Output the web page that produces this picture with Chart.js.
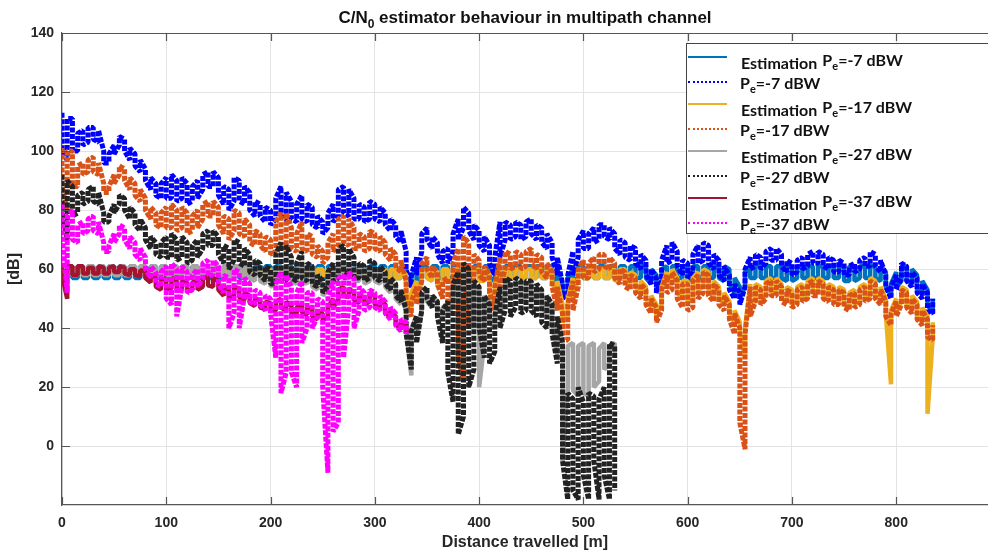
<!DOCTYPE html>
<html>
<head>
<meta charset="utf-8">
<script src="https://cdn.jsdelivr.net/npm/chart.js@4.4.1/dist/chart.umd.min.js"></script>
<style>
  html, body { margin: 0; padding: 0; background: #fff; }
  #wrap { position: relative; width: 988px; height: 554px; overflow: hidden; }
  #title { position: absolute; left: 62px; width: 926px; top: 9px; text-align: center;
           font: bold 17px "Liberation Sans", Arial, sans-serif; line-height: 17px; color: #111; }
  #title sub { font-size: 12px; line-height: 0; vertical-align: -5px; }
  #legendBox { position: absolute; left: 686px; top: 43px; width: 320px; height: 191px;
               background: #fff; border: 1px solid #444; box-sizing: border-box; }
  .lgLine { position: absolute; left: 688px; width: 39px; height: 0; }
  .lgText { position: absolute; white-space: nowrap; font: bold 16px Lato, "Open Sans", sans-serif;
            line-height: 16px; color: #111; }
  .lgText sub { font-size: 11px; line-height: 0; vertical-align: -4px; }
  .raise { position: relative; top: -3px; margin-left: 5px; }
</style>
</head>
<body>
<div id="wrap">
  <canvas id="chart" width="988" height="554"></canvas>
  <div id="title">C/N<sub>0</sub> estimator behaviour in multipath channel</div>
  <div id="legendBox"></div>
</div>
<script>
// distance travelled [m], one sample every 5 m
const distance = [
  0,5,10,15,20,25,30,35,40,45, 50,55,60,65,70,75,80,85,90,95,
  100,105,110,115,120,125,130,135,140,145, 150,155,160,165,170,175,180,185,190,195,
  200,205,210,215,220,225,230,235,240,245, 250,255,260,265,270,275,280,285,290,295,
  300,305,310,315,320,325,330,335,340,345, 350,355,360,365,370,375,380,385,390,395,
  400,405,410,415,420,425,430,435,440,445, 450,455,460,465,470,475,480,485,490,495,
  500,505,510,515,520,525,530,535,540,545, 550,555,560,565,570,575,580,585,590,595,
  600,605,610,615,620,625,630,635,640,645, 650,655,660,665,670,675,680,685,690,695,
  700,705,710,715,720,725,730,735,740,745, 750,755,760,765,770,775,780,785,790,795,
  800,805,810,815,820,825,830,835
];

const xTicks = [0, 100, 200, 300, 400, 500, 600, 700, 800];
const yTicks = [0, 20, 40, 60, 80, 100, 120, 140];

// each series: upper and lower edge of the noisy trace at every distance sample [dB]
const est7Hi = [
  61,61,61,61,61,61,61,61,61,61, 61,61,61,61,61,61,61,61,61,61,
  61,61,61,61,61,61,61,61,61,61, 61,61,61,61,61,61,61,61,61,61,
  61,61,61,61,61,61,61,61,61,61, 61,61,61,61,61,61,61,61,61,61,
  61,61,61,61,61,61,60,58,60,61, 61,61,61,61,61,61,61,61,61,61,
  61,61,61,60,61,61,61,61,61,61, 61,61,61,61,61,60,55,57,60,61,
  61,61,61,61,61,61,61,61,61,61, 61,61,61,60,58,60,61,61,61,61,
  61,61,61,61,61,61,61,61,60,57, 54,59,61,61,61,61,61,61,61,61,
  61,61,61,61,61,61,61,61,61,61, 61,61,61,61,61,61,61,61,59,55,
  59,61,61,60,58,56,53,50
];
const est7Lo = [
  57,57,57,57,57,57,57,57,57,57, 57,57,57,57,57,57,57,57,57,57,
  57,57,57,57,57,57,57,57,57,57, 57,57,57,57,57,57,57,57,57,57,
  57,57,57,57,57,57,57,57,57,57, 57,57,57,57,57,57,57,57,57,57,
  57,57,57,57,57,57,56,54,56,57, 57,57,57,57,57,57,57,57,57,57,
  57,57,57,56,57,57,57,57,57,57, 57,57,57,57,57,56,51,52,56,57,
  57,57,57,57,57,57,57,57,57,57, 57,57,57,55,53,56,57,57,57,57,
  56,57,57,57,57,57,57,56,55,52, 50,54,57,57,57,57,57,57,57,56,
  56,57,57,57,57,57,57,57,57,57, 56,56,56,57,57,57,57,56,54,51,
  54,56,56,55,53,52,48,45
];
const pe7Hi = [
  113,111,111,106,107,108,108,107,100,99, 102,105,104,101,99,97,94,91,89,89,
  91,92,90,91,89,88,90,92,93,93, 91,88,87,91,90,88,86,83,82,81,
  80,84,88,86,83,82,85,82,81,78, 76,79,82,87,88,87,84,82,81,83,
  82,81,79,77,75,73,66,58,64,72, 74,71,69,66,67,72,77,81,79,75,
  73,71,68,64,76,76,75,76,75,76, 77,75,74,72,69,64,55,58,66,70,
  73,72,74,75,75,74,72,70,69,68, 67,65,63,60,57,63,68,69,66,63,
  62,65,68,69,68,65,63,61,58,55, 52,60,64,65,64,66,67,67,65,63,
  62,63,64,65,66,66,65,64,63,63, 62,61,62,63,64,66,65,63,58,54,
  58,62,61,59,57,55,52,50
];
const pe7Lo = [
  100,97,100,100,102,103,104,103,96,96, 99,102,100,97,95,93,90,87,85,84,
  84,84,83,84,82,83,84,87,88,88, 85,82,80,83,83,82,80,78,78,76,
  75,77,78,77,77,76,77,76,75,74, 72,74,76,78,79,78,77,77,76,77,
  77,76,75,73,71,69,60,54,58,66, 70,67,65,62,62,66,70,74,73,70,
  68,66,62,58,64,70,70,71,70,71, 72,70,69,67,64,58,50,52,58,64,
  67,67,69,70,71,70,67,65,64,63, 62,60,58,55,52,56,62,63,61,58,
  57,59,62,63,62,60,58,56,53,50, 48,54,60,61,60,62,63,63,61,59,
  58,59,60,61,62,62,61,60,59,59, 58,58,59,60,61,61,61,59,54,50,
  53,57,56,54,52,50,46,45
];
const est17Hi = [
  60,60,60,60,60,60,60,60,60,60, 60,60,60,60,60,60,60,60,60,60,
  60,60,60,60,60,60,60,60,60,60, 60,60,60,60,60,60,60,60,60,60,
  60,60,60,60,60,60,60,60,60,60, 60,60,60,60,60,60,60,60,60,60,
  60,60,60,60,60,60,58,52,56,60, 60,60,59,60,60,60,60,60,60,60,
  60,60,58,55,60,60,60,60,60,60, 60,60,60,60,60,56,48,50,57,60,
  60,60,60,60,60,60,60,60,60,59, 58,56,54,51,48,54,59,60,57,56,
  56,57,59,60,59,56,54,52,49,46, 42,40,55,55,54,56,57,57,55,54,
  53,54,55,56,57,57,56,55,54,54, 53,52,53,54,55,57,56,54,50,46,
  50,54,53,51,49,47,44,42
];
const est17Lo = [
  58,58,58,58,58,58,58,58,58,58, 58,58,58,58,58,58,58,58,58,58,
  58,58,58,58,58,58,58,58,58,58, 58,58,58,58,58,58,58,58,58,58,
  58,58,58,58,58,58,58,58,58,58, 58,58,58,58,58,58,58,58,58,58,
  57,57,57,57,57,57,52,46,50,56, 57,56,54,55,56,56,56,56,56,56,
  56,56,52,48,56,57,57,57,57,57, 57,57,57,57,56,50,42,44,50,57,
  57,57,57,57,57,57,56,57,56,55, 54,52,50,47,44,48,54,55,52,50,
  49,50,53,54,53,51,50,48,45,42, 38,30,46,50,49,51,52,52,50,49,
  48,49,50,51,52,52,51,50,49,49, 48,47,48,49,50,51,51,49,45,21,
  45,49,48,46,44,42,11,37
];
const pe17Hi = [
  101,100,100,95,96,97,98,96,89,88, 92,95,94,91,89,87,84,81,79,79,
  81,82,80,81,79,78,80,82,83,83, 81,78,77,80,79,77,75,73,72,71,
  70,76,79,79,74,72,76,72,71,68, 66,69,72,77,78,77,74,72,71,73,
  72,71,69,67,65,63,56,49,54,62, 64,61,59,56,57,62,67,71,69,65,
  63,61,58,54,64,66,65,66,65,66, 67,65,64,62,59,54,45,48,56,60,
  63,62,64,65,65,64,62,60,59,58, 57,55,53,50,47,53,58,59,56,55,
  55,56,58,59,58,55,53,51,48,45, 40,38,54,54,53,55,56,56,54,53,
  52,53,54,55,56,56,55,54,53,53, 52,51,52,53,54,56,55,53,49,45,
  49,53,52,50,48,46,43,41
];
const pe17Lo = [
  88,80,88,88,92,93,93,92,86,86, 89,92,90,87,85,83,80,77,75,74,
  74,74,73,74,72,73,74,77,78,78, 75,72,70,73,72,71,69,68,68,66,
  65,66,68,67,67,66,67,66,65,64, 62,64,66,68,69,68,67,67,66,67,
  67,66,65,63,61,59,48,44,48,56, 60,57,55,50,48,52,30,22,40,55,
  58,56,52,46,54,60,60,61,60,61, 62,60,59,57,54,46,36,36,46,54,
  57,57,59,60,61,60,57,55,54,53, 52,50,48,45,42,46,52,53,50,47,
  46,47,50,52,51,49,48,46,43,38, 8,-1,44,49,48,50,51,51,49,48,
  47,48,49,50,51,51,50,49,48,48, 47,46,47,48,49,50,50,48,44,41,
  44,48,47,45,43,41,37,36
];
const est27Hi = [
  61,61,61,61,61,61,61,61,61,61, 61,61,61,61,61,61,61,61,61,61,
  61,61,61,61,61,61,61,61,61,61, 61,61,61,61,61,61,60,60,60,59,
  58,60,61,61,60,60,61,60,59,57, 55,57,60,61,61,61,60,60,60,60,
  60,60,58,56,54,52,46,40,44,51, 53,51,49,47,48,52,56,59,58,55,
  53,51,48,45,52,56,55,56,55,55, 56,54,52,50,47,42,35,34,35,34,
  35,34,35,33,35,34,35
];
const est27Lo = [
  58,58,58,58,58,58,58,58,58,58, 58,58,58,58,58,58,58,58,58,58,
  58,58,58,58,58,58,58,58,58,58, 58,58,57,58,58,57,57,56,56,55,
  54,55,56,56,56,55,56,55,54,53, 51,53,55,57,58,57,56,56,55,56,
  56,55,54,52,50,48,40,24,38,46, 49,47,45,43,44,48,50,54,53,40,
  20,35,42,40,46,51,50,51,50,50, 51,49,47,45,42,30,-5,20,19,17,
  18,17,20,22,26,28,30
];
const pe27Hi = [
  92,90,88,85,86,87,88,86,79,78, 82,85,84,81,79,77,74,71,69,69,
  71,72,70,71,69,68,70,72,73,73, 71,68,67,70,69,67,65,63,62,61,
  60,65,69,68,64,62,66,62,61,58, 56,59,62,67,68,67,64,62,61,63,
  62,61,59,57,55,53,46,39,44,52, 54,51,49,46,49,55,59,62,60,56,
  54,51,48,44,54,57,56,57,56,56, 56,55,53,51,48,44,35,18,16,20,
  15,18,17,16,20,35,34
];
const pe27Lo = [
  80,70,78,79,82,83,83,82,76,76, 79,82,80,77,75,73,70,67,65,64,
  64,64,63,64,62,63,64,67,68,68, 65,62,60,63,62,61,59,58,58,56,
  55,55,56,56,57,56,57,56,55,54, 52,54,56,57,59,58,57,57,56,57,
  57,56,55,53,51,49,38,26,35,46, 50,47,44,35,25,15,4,10,20,26,
  40,30,28,32,40,46,44,47,45,46, 46,44,42,40,38,28,-5,-18,-15,-18,
  -10,-18,-5,-18,-10,-18,-15
];
const est37Hi = [
  62,61,61,61,61,60.5,60.5,61,60.5,60.5, 61,61,60.5,60,60,59.5,59.5,58,57,56,
  57,57,56,56,55.5,55.5,56,57,57.5,57, 56,54,53,54,53.5,52,51,50,49.5,49,
  48.5,49,50,49,47.5,47,48,47,46.5,45.5, 45,47,50,53,54,53.5,52,51,50.5,52,
  51,49.5,48,46,44,42,41
];
const est37Lo = [
  58,50,58,58,58.5,58.5,58.5,58.5,58.5,58.5, 59,59,58.5,58,58,57.5,57,55.5,54,53,
  53,53.5,53,53,52.5,53,53,54,54.5,54, 53,51,50,51,50.5,49.5,48.5,47.5,47,46.5,
  46,46,47,46,45,44.5,45.5,44.5,44,43, 42.5,44,47,49.5,51,50.5,49.5,48.5,48,49,
  48,47,45.5,43.5,41.5,39.5,38
];
const pe37Hi = [
  82,78,80,75,76,77,78,76,69,68, 72,75,74,71,69,67,64,61,59,59,
  61,62,60,61,59,58,60,62,63,63, 61,58,57,60,59,57,55,53,52,51,
  50,55,59,58,54,52,56,52,52,50, 49,51,56,57,58,59,57,54,52,53,
  52,51,49,47,45,43,42
];
const pe37Lo = [
  72,52,70,69,72,73,73,72,66,66, 69,72,70,67,65,63,60,57,55,54,
  50,48,44,54,52,53,54,57,58,58, 55,52,40,45,40,51,49,48,48,46,
  45,30,18,25,25,20,35,40,40,44, 20,-9,5,8,30,47,40,46,46,47,
  47,46,45,43,41,39,38
];

const powers = ['-7', '-17', '-27', '-37'];
const seriesNames = [
  'Estimation Pe=-7 dBW', 'Pe=-7 dBW', 'Estimation Pe=-17 dBW', 'Pe=-17 dBW',
  'Estimation Pe=-27 dBW', 'Pe=-27 dBW', 'Estimation Pe=-37 dBW', 'Pe=-37 dBW'
];
const seriesColors = ['#0072BD', '#0000FF', '#EDB120', '#D95319', '#A6A6A6', '#222222', '#A2142F', '#FF00FF'];
const seriesHi = [est7Hi, pe7Hi, est17Hi, pe17Hi, est27Hi, pe27Hi, est37Hi, pe37Hi];
const seriesLo = [est7Lo, pe7Lo, est17Lo, pe17Lo, est27Lo, pe27Lo, est37Lo, pe37Lo];

// zig-zag between the two edges so the noisy band gets filled
function ladder(hi, lo) {
  const pts = [];
  hi.forEach((h, i) => {
    const d = distance[i];
    if (i % 2 === 0) {
      pts.push({ x: d, y: h }, { x: d, y: lo[i] });
    } else {
      pts.push({ x: d, y: lo[i] }, { x: d, y: h });
    }
  });
  return pts;
}

const datasets = seriesNames.map((name, i) => {
  const dotted = i % 2 === 1;
  return {
    label: name,
    data: ladder(seriesHi[i], seriesLo[i]),
    borderColor: seriesColors[i],
    borderWidth: dotted ? 5 : 4.5,
    borderDash: dotted ? [5, 1.5] : [],
    borderJoinStyle: 'bevel',
    pointRadius: 0,
    fill: false,
    tension: 0,
    order: seriesNames.length - i   // later series drawn on top, like the original
  };
});

// legend (html so the subscripts work)
const wrap = document.getElementById('wrap');
powers.forEach((p, k) => {
  const estY = 57 + 47 * k;
  const peY = estY + 25;
  const l1 = document.createElement('div');
  l1.className = 'lgLine';
  l1.style.top = (estY - 1) + 'px';
  l1.style.borderTop = '2.5px solid ' + seriesColors[2 * k];
  wrap.appendChild(l1);
  const l2 = document.createElement('div');
  l2.className = 'lgLine';
  l2.style.top = (peY - 1) + 'px';
  l2.style.borderTop = '2px dotted ' + seriesColors[2 * k + 1];
  wrap.appendChild(l2);

  const t1 = document.createElement('div');
  t1.className = 'lgText';
  t1.style.left = '741px';
  t1.style.top = (estY - 2) + 'px';
  t1.innerHTML = 'Estimation<span class="raise">P<sub>e</sub>=' + p + ' dBW</span>';
  wrap.appendChild(t1);
  const t2 = document.createElement('div');
  t2.className = 'lgText';
  t2.style.left = '740px';
  t2.style.top = (peY - 7) + 'px';
  t2.innerHTML = 'P<sub>e</sub>=' + p + ' dBW';
  wrap.appendChild(t2);
});

// box top line and inward tick marks, matlab style
const frame = {
  id: 'frame',
  afterDraw(chart) {
    const { ctx, chartArea: a, scales } = chart;
    ctx.save();
    ctx.strokeStyle = '#555';
    ctx.lineWidth = 1.2;
    ctx.beginPath();
    ctx.moveTo(a.left, a.top + 0.5);
    ctx.lineTo(a.right, a.top + 0.5);
    xTicks.forEach(v => {
      const px = Math.round(scales.x.getPixelForValue(v)) + 0.5;
      ctx.moveTo(px, a.bottom); ctx.lineTo(px, a.bottom - 8);
      ctx.moveTo(px, a.top); ctx.lineTo(px, a.top + 8);
    });
    yTicks.forEach(v => {
      const py = Math.round(scales.y.getPixelForValue(v)) + 0.5;
      ctx.moveTo(a.left, py); ctx.lineTo(a.left + 8, py);
    });
    ctx.stroke();
    ctx.restore();
  }
};

const tickFont = { family: '"Liberation Sans", Arial, sans-serif', size: 14, weight: 'bold' };
const titleFont = { family: '"Liberation Sans", Arial, sans-serif', size: 16, weight: 'bold' };

new Chart(document.getElementById('chart').getContext('2d'), {
  type: 'line',
  data: { datasets: datasets },
  options: {
    responsive: false,
    animation: false,
    devicePixelRatio: 1,
    layout: { padding: { top: 33, right: 0, bottom: 0, left: 0 } },
    plugins: {
      legend: { display: false },
      tooltip: { enabled: false }
    },
    scales: {
      x: {
        type: 'linear',
        min: 0,
        max: 888,
        afterBuildTicks: s => { s.ticks = xTicks.map(v => ({ value: v })); },
        afterFit: s => { s.height = 49; },
        grid: { color: '#e3e3e3', drawTicks: false },
        border: { color: '#555', width: 1.2 },
        ticks: { font: tickFont, color: '#262626', padding: 10, maxRotation: 0 },
        title: { display: true, text: 'Distance travelled [m]', font: titleFont, color: '#262626',
                 padding: { top: 0, bottom: 2 } }
      },
      y: {
        min: -19.9,
        max: 140,
        afterBuildTicks: s => { s.ticks = yTicks.map(v => ({ value: v })); },
        afterFit: s => { s.width = 62; },
        grid: { color: '#e3e3e3', drawTicks: false },
        border: { color: '#555', width: 1.2 },
        ticks: { font: tickFont, color: '#262626', padding: 8 },
        title: { display: true, text: '[dB]', font: titleFont, color: '#262626',
                 padding: { top: 5, bottom: 0 } }
      }
    }
  },
  plugins: [frame]
});
</script>
</body>
</html>
